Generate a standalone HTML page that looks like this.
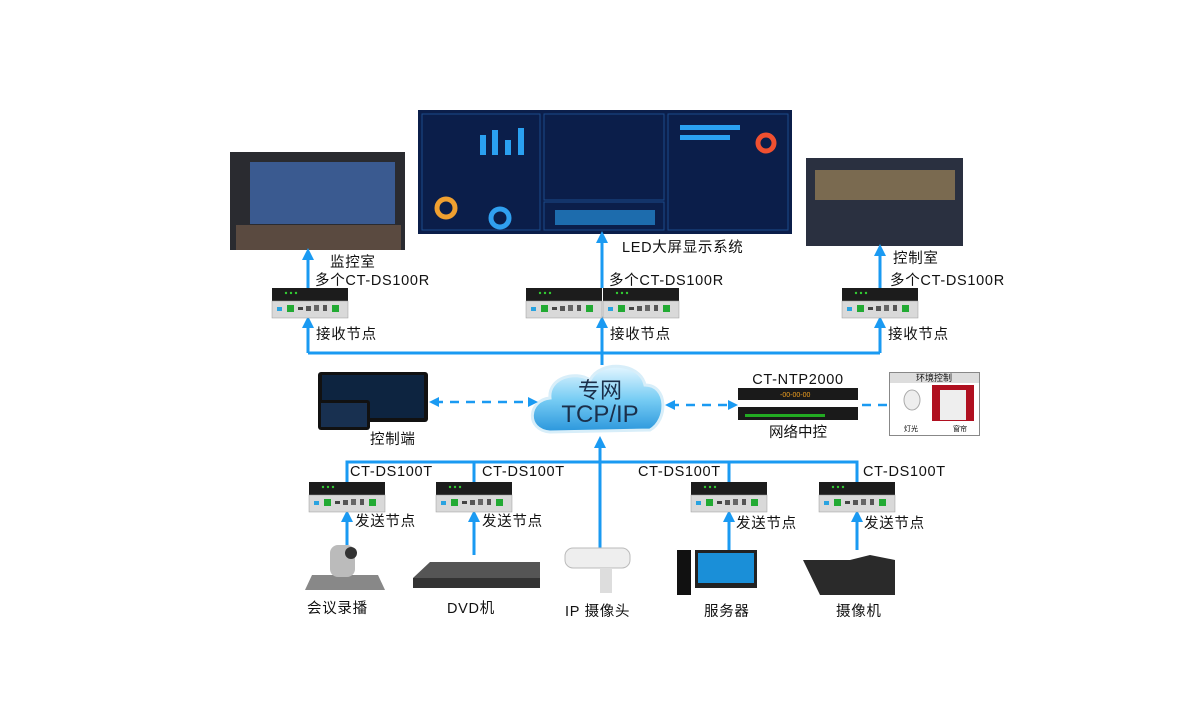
<!DOCTYPE html>
<html><head><meta charset="utf-8"><style>
body{margin:0;background:#fff;}
svg{display:block;font-family:"Liberation Sans","Noto Sans CJK SC",sans-serif;}
</style></head><body>
<svg width="1200" height="720" viewBox="0 0 1200 720">
<defs>
<marker id="ah" viewBox="0 0 10 10" refX="5" refY="5" markerWidth="4" markerHeight="4" orient="auto-start-reverse"><path d="M0,0L10,5L0,10z" fill="#1a9af2"/></marker>
<linearGradient id="cl" x1="0" y1="0" x2="0" y2="1"><stop offset="0" stop-color="#e4f6ff"/><stop offset=".5" stop-color="#78cdf4"/><stop offset="1" stop-color="#2a96dc"/></linearGradient>
<g id="dev">
<rect x="0" y="0" width="76" height="13" fill="#1c1c1c"/>
<circle cx="14" cy="5" r="1.2" fill="#3c3"/><circle cx="19" cy="5" r="1.2" fill="#3c3"/><circle cx="24" cy="5" r="1.2" fill="#3c3"/>
<rect x="0" y="13" width="76" height="17" fill="#d9d9d9" stroke="#999" stroke-width=".5"/>
<rect x="5" y="19" width="5" height="4" fill="#29a3e0"/>
<rect x="15" y="17" width="7" height="7" fill="#22aa33"/><rect x="26" y="19" width="5" height="3" fill="#444"/>
<rect x="34" y="18" width="5" height="5" fill="#555"/><rect x="42" y="17" width="5" height="6" fill="#666"/>
<rect x="51" y="17" width="4" height="6" fill="#555"/><rect x="60" y="17" width="7" height="7" fill="#22aa33"/>
</g>
</defs>
<!-- images -->
<rect x="230" y="152" width="175" height="98" fill="#2a2b30"/>
<rect x="250" y="162" width="145" height="62" fill="#3a5a90"/>
<rect x="236" y="225" width="165" height="25" fill="#5a4a40"/>
<rect x="418" y="110" width="374" height="124" fill="#0b1e4a"/>
<g fill="none" stroke="#1b4b8a" stroke-width="1">
<rect x="422" y="114" width="118" height="116"/><rect x="544" y="114" width="120" height="86"/><rect x="544" y="202" width="120" height="28"/><rect x="668" y="114" width="120" height="116"/></g>
<circle cx="446" cy="208" r="9" fill="none" stroke="#f0a030" stroke-width="5"/>
<circle cx="500" cy="218" r="9" fill="none" stroke="#30a0f0" stroke-width="5"/>
<circle cx="766" cy="143" r="8" fill="none" stroke="#f05030" stroke-width="5"/>
<g fill="#2aa0f0"><rect x="480" y="135" width="6" height="20"/><rect x="492" y="130" width="6" height="25"/><rect x="505" y="140" width="6" height="15"/><rect x="518" y="128" width="6" height="27"/><rect x="555" y="210" width="100" height="15" opacity=".6"/><rect x="680" y="125" width="60" height="5"/><rect x="680" y="135" width="50" height="5"/></g>
<rect x="806" y="158" width="157" height="88" fill="#2a3040"/>
<rect x="815" y="170" width="140" height="30" fill="#7a6a50"/>
<rect x="318" y="372" width="110" height="50" rx="3" fill="#111"/><rect x="322" y="375" width="102" height="43" fill="#0d2440"/>
<rect x="318" y="400" width="52" height="30" rx="3" fill="#111"/><rect x="321" y="403" width="46" height="24" fill="#183050"/>
<!-- cloud -->
<path d="M550,432 C525,430 528,400 550,398 C548,378 575,370 590,380 C600,360 640,362 645,385 C668,385 668,420 650,430 Z" fill="url(#cl)" stroke="#d8eef9" stroke-width="3"/>
<text x="600" y="398" font-size="22" text-anchor="middle" fill="#1b2f4a">专网</text>
<text x="600" y="422" font-size="24" text-anchor="middle" fill="#1b2f4a">TCP/IP</text>
<!-- NTP -->
<rect x="738" y="388" width="120" height="12" fill="#1a1a1a"/>
<text x="780" y="397" font-size="7" fill="#f0a020">-00-00-00</text>
<rect x="738" y="407" width="120" height="13" fill="#1a1a1a"/><rect x="745" y="414" width="80" height="3" fill="#2a2"/>
<text x="798" y="384" font-size="14.5" text-anchor="middle" fill="#111" letter-spacing=".7">CT-NTP2000</text>
<text x="798" y="437" font-size="14.5" text-anchor="middle" fill="#111">网络中控</text>
<rect x="889.5" y="372.5" width="90" height="63" fill="#fff" stroke="#888"/>
<rect x="890" y="373" width="89" height="10" fill="#ddd"/>
<text x="934" y="381" font-size="9" text-anchor="middle" fill="#111">环境控制</text>
<ellipse cx="912" cy="400" rx="8" ry="10" fill="#eee" stroke="#aaa"/>
<rect x="932" y="385" width="42" height="36" fill="#b01020"/><rect x="940" y="390" width="26" height="30" fill="#eee"/>
<text x="911" y="431" font-size="7" text-anchor="middle">灯光</text><text x="960" y="431" font-size="7" text-anchor="middle">窗帘</text>
<!-- lines -->
<g stroke="#1a9af2" stroke-width="3" fill="none">
<path d="M308,353H880"/>
<path d="M308,353V322" marker-end="url(#ah)"/><path d="M602,353V322" marker-end="url(#ah)"/><path d="M880,353V322" marker-end="url(#ah)"/>
<path d="M308,288V254" marker-end="url(#ah)"/><path d="M602,288V237" marker-end="url(#ah)"/><path d="M880,288V250" marker-end="url(#ah)"/>
<path d="M602,353V365"/>
<path d="M600,555V442" marker-end="url(#ah)"/>
<path d="M347,482V462H857V482M474,462V482M729,462V482"/>
<path d="M347,545V516" marker-end="url(#ah)"/><path d="M474,555V516" marker-end="url(#ah)"/><path d="M729,550V516" marker-end="url(#ah)"/><path d="M857,550V516" marker-end="url(#ah)"/>
</g>
<g stroke="#1a9af2" stroke-width="2.5" fill="none" stroke-dasharray="9,7">
<path d="M434,402H533" marker-start="url(#ah)" marker-end="url(#ah)"/>
<path d="M670,405H733" marker-start="url(#ah)" marker-end="url(#ah)"/>
<path d="M862,405H889"/>
</g>
<!-- devices -->
<use href="#dev" x="272" y="288"/><use href="#dev" x="526" y="288"/><use href="#dev" x="603" y="288"/><use href="#dev" x="842" y="288"/>
<use href="#dev" x="309" y="482"/><use href="#dev" x="436" y="482"/><use href="#dev" x="691" y="482"/><use href="#dev" x="819" y="482"/>
<!-- sources -->
<path d="M305,590 L312,575 H378 L385,590 Z" fill="#888"/><rect x="330" y="545" width="25" height="32" rx="8" fill="#bbb"/><circle cx="351" cy="553" r="6" fill="#333"/>
<path d="M413,578 L430,562 H540 L540,578 Z" fill="#555"/><rect x="413" y="578" width="127" height="10" fill="#333"/>
<rect x="565" y="548" width="65" height="20" rx="8" fill="#eee" stroke="#bbb"/><rect x="600" y="568" width="12" height="25" fill="#ddd"/>
<rect x="677" y="550" width="14" height="45" fill="#111"/><rect x="695" y="550" width="62" height="38" fill="#222"/><rect x="698" y="553" width="56" height="30" fill="#1a8fd8"/>
<path d="M803,560 H850 L870,555 L895,560 V595 H820 Z" fill="#2a2a2a"/>
<!-- text -->
<g font-size="14.5" fill="#111" letter-spacing=".7">
<text x="330" y="267">监控室</text>
<text x="315" y="285">多个CT-DS100R</text>
<text x="609" y="285">多个CT-DS100R</text>
<text x="890" y="285">多个CT-DS100R</text>
<text x="893" y="263">控制室</text>
<text x="622" y="252">LED大屏显示系统</text>
<text x="316" y="339">接收节点</text><text x="610" y="339">接收节点</text><text x="888" y="339">接收节点</text>
<text x="370" y="444">控制端</text>
<text x="350" y="476">CT-DS100T</text><text x="482" y="476">CT-DS100T</text><text x="638" y="476">CT-DS100T</text><text x="863" y="476">CT-DS100T</text>
<text x="355" y="526">发送节点</text><text x="482" y="526">发送节点</text><text x="736" y="528">发送节点</text><text x="864" y="528">发送节点</text>
<text x="307" y="613">会议录播</text><text x="447" y="613">DVD机</text><text x="565" y="616">IP 摄像头</text><text x="704" y="616">服务器</text><text x="836" y="616">摄像机</text>
</g>
</svg>
</body></html>
